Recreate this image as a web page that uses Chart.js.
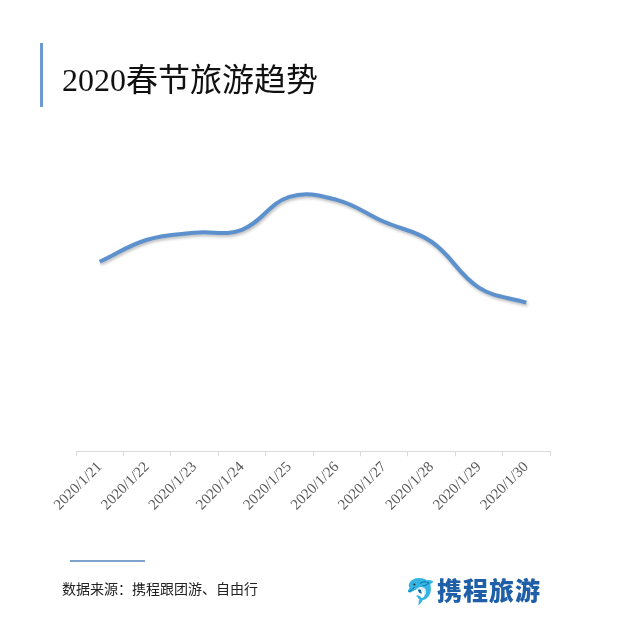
<!DOCTYPE html>
<html>
<head>
<meta charset="utf-8">
<script src="https://cdn.jsdelivr.net/npm/chart.js@4"></script>
<style>
  html, body { margin: 0; padding: 0; background: #fff; }
  #wrap { position: relative; width: 640px; height: 628px; overflow: hidden; }
  #trendChart { position: absolute; left: 0; top: 0; }
  .bar { position: absolute; left: 40px; top: 43px; width: 3px; height: 64px; background: #6b9bd2; }
  .title { position: absolute; left: 62px; top: 54px; font-family: "Liberation Serif", "Noto Sans CJK SC", serif; font-size: 32px; color: #111; white-space: nowrap; }
  .rule { position: absolute; left: 70px; top: 560px; width: 75px; height: 2px; background: #7fa3cc; }
  .source { position: absolute; left: 62px; top: 578px; font-family: "Noto Sans CJK SC", sans-serif; font-size: 14px; color: #222; white-space: nowrap; }
  .logo { position: absolute; left: 405px; top: 571px; font-family: "Noto Sans CJK SC", sans-serif; font-weight: 900; font-size: 25px; color: #1f5fa8; white-space: nowrap; letter-spacing: 1px; }
</style>
</head>
<body>
<div id="wrap">
  <canvas id="trendChart" width="640" height="628"></canvas>
  <div class="bar"></div>
  <div class="title">2020春节旅游趋势</div>
  <div class="rule"></div>
  <div class="source">数据来源：携程跟团游、自由行</div>
  <div class="logo">🐬携程旅游</div>
</div>
<script>
var dates = ["2020/1/21", "2020/1/22", "2020/1/23", "2020/1/24", "2020/1/25",
             "2020/1/26", "2020/1/27", "2020/1/28", "2020/1/29", "2020/1/30"];
var trend = [190, 212, 219, 222, 255, 252, 230, 210, 164, 149];

var shadowPlugin = {
  id: "lineShadow",
  beforeDatasetDraw: function (chart) {
    var ctx = chart.ctx;
    ctx.save();
    ctx.shadowColor = "rgba(0,0,0,0.25)";
    ctx.shadowBlur = 3;
    ctx.shadowOffsetX = 1;
    ctx.shadowOffsetY = 2;
  },
  afterDatasetDraw: function (chart) {
    chart.ctx.restore();
  }
};

var trendCanvas = document.getElementById("trendChart");
var lineChart = new Chart(trendCanvas, {
  type: 'line',
  data: {
    labels: dates,
    datasets: [{
      label: '趋势',
      data: trend,
      borderColor: '#5c91cd',
      borderWidth: 4,
      pointRadius: 0,
      tension: 0.4,
      fill: false
    }]
  },
  options: {
    responsive: false,
    animation: false,
    layout: {
      padding: { left: 76, right: 90, top: 130, bottom: 112 }
    },
    plugins: {
      legend: { display: false },
      tooltip: { enabled: false }
    },
    scales: {
      x: {
        offset: true,
        border: { color: '#d9d9d9', width: 1 },
        grid: {
          offset: true,
          drawOnChartArea: false,
          drawTicks: true,
          tickLength: 5,
          color: '#d9d9d9'
        },
        ticks: {
          minRotation: 45,
          maxRotation: 45,
          padding: 2,
          color: '#595959',
          font: { family: 'Liberation Serif', size: 15 }
        }
      },
      y: {
        display: false,
        min: 0,
        max: 322
      }
    }
  },
  plugins: [shadowPlugin]
});
</script>
</body>
</html>
